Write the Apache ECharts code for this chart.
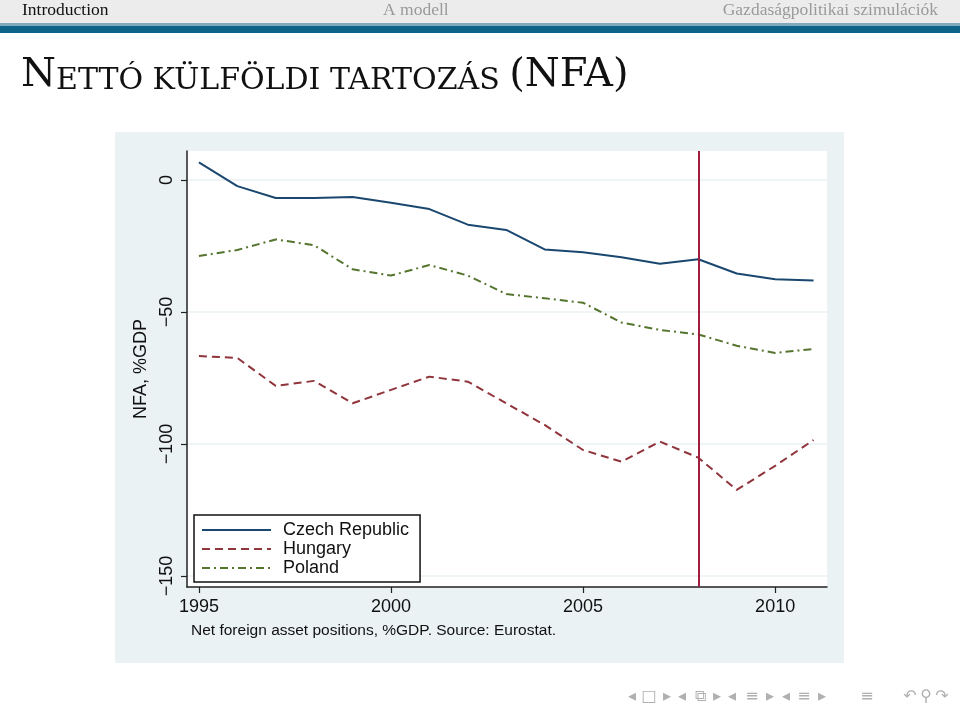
<!DOCTYPE html>
<html>
<head>
<meta charset="utf-8">
<script src="https://cdn.jsdelivr.net/npm/echarts@6/dist/echarts.min.js"></script>
<style>
html,body{margin:0;padding:0;background:#fff;}
#chart{width:960px;height:711px;}
</style>
</head>
<body>
<div id="chart"></div>
<script>
// ---- data ----
const years = [1995,1996,1997,1998,1999,2000,2001,2002,2003,2004,2005,2006,2007,2008,2009,2010,2011];
const czech   = [6.7,-2.3,-6.8,-6.8,-6.4,-8.6,-11.0,-16.9,-18.9,-26.3,-27.4,-29.3,-31.7,-30.0,-35.4,-37.6,-38.1];
const hungary = [-66.7,-67.4,-78.0,-76.1,-84.6,-79.5,-74.5,-76.4,-84.6,-92.8,-102.3,-106.7,-99.1,-105.2,-117.4,-108.3,-98.5];
const poland  = [-28.8,-26.5,-22.5,-24.7,-33.8,-36.2,-32.2,-36.2,-43.2,-44.8,-46.5,-54.0,-56.8,-58.5,-62.8,-65.5,-64.0];
const seriesNames = ['Czech Republic','Hungary','Poland'];
const xTicks = [1995,2000,2005,2010];
const yTicks = [-150,-100,-50,0];
const crisisYear = 2008;
const yAxisTitle = 'NFA, %GDP';
const caption = 'Net foreign asset positions, %GDP. Source: Eurostat.';
const headerItems = ['Introduction','A modell','Gazdaságpolitikai szimulációk'];

const pairs = arr => years.map((y,i)=>[y,arr[i]]);
const sans = '"Liberation Sans", Arial, sans-serif';
const serif = '"Liberation Serif", "DejaVu Serif", serif';
const titleSerif = '"DejaVu Serif", serif';

const chart = echarts.init(document.getElementById('chart'), null, {renderer:'canvas'});

const navColor = '#b0b0b0';
const navItems = [
  ['◂',632],['□',649],['▸',667],
  ['◂',682],['⧉',700],['▸',717],
  ['◂',732],['≡',752],['▸',770],
  ['◂',786],['≡',804],['▸',822],
  ['≡',867],['↶',910],['⚲',926],['↷',942]
];

const graphics = [
  // header bar
  {type:'rect', shape:{x:0,y:0,width:960,height:23}, style:{fill:'#ececec'}, z:-10},
  {type:'rect', shape:{x:0,y:23,width:960,height:3}, style:{fill:'#7fa9bd'}, z:-10},
  {type:'rect', shape:{x:0,y:26,width:960,height:7}, style:{fill:'#0e6388'}, z:-10},
  {type:'text', left:22, top:1, style:{text:headerItems[0], font:'17.5px '+serif, fill:'#111'}},
  {type:'text', left:383, top:1, style:{text:headerItems[1], font:'17.5px '+serif, fill:'#9a9a9a'}},
  {type:'text', right:22, top:1, style:{text:headerItems[2], font:'17.5px '+serif, fill:'#9a9a9a'}},
  // title (small caps simulated)
  {type:'text', left:21, top:56, style:{
    text:'{b|N}{s|ETTÓ KÜLFÖLDI TARTOZÁS }{b|(NFA)}',
    rich:{
      b:{fontFamily:titleSerif, fontSize:40, fill:'#111', verticalAlign:'bottom'},
      s:{fontFamily:titleSerif, fontSize:30, fill:'#111', verticalAlign:'bottom'}
    }
  }},
  // graph region
  {type:'rect', shape:{x:115,y:132,width:729,height:531}, style:{fill:'#eaf2f3'}, z:-5},
  // caption
  {type:'text', left:191, top:623, style:{text:caption, font:'15.5px '+sans, fill:'#111'}}
];
navItems.forEach(([t,x])=>{
  graphics.push({type:'text', x:x, y:697, style:{text:t, font:'16px "DejaVu Sans"', fill:navColor, align:'center', verticalAlign:'middle'}});
});

const lineW = 2;
const option = {
  animation:false,
  backgroundColor:'#fff',
  graphic: graphics,
  grid:{left:187, right:133, top:151, bottom:124, show:true, backgroundColor:'#fff', borderWidth:0, containLabel:false},
  xAxis:{
    type:'value', min:1994.69, max:2011.35,
    axisLine:{show:true, onZero:false, lineStyle:{color:'#222', width:1.5}},
    axisTick:{show:true, length:6, customValues:xTicks, lineStyle:{color:'#222', width:1.2}},
    axisLabel:{customValues:xTicks, fontFamily:sans, fontSize:18, color:'#111', margin:11,
      formatter:v=>String(v)},
    splitLine:{show:false}
  },
  yAxis:{
    type:'value', min:-154.2, max:11,
    name:yAxisTitle, nameLocation:'middle', nameRotate:90, nameGap:31,
    nameTextStyle:{fontFamily:sans, fontSize:18, color:'#111'},
    axisLine:{show:true, onZero:false, lineStyle:{color:'#222', width:1.5}},
    axisTick:{show:true, length:6, customValues:yTicks, lineStyle:{color:'#222', width:1.2}},
    axisLabel:{customValues:yTicks, rotate:90, fontFamily:sans, fontSize:18, color:'#111', margin:11,
      formatter:v=>String(v).replace('-','\u2212')},
    splitLine:{show:true, lineStyle:{color:'#eaf2f3', width:1.5}}
  },
  legend:{
    orient:'vertical', left:194, top:515,
    data:seriesNames,
    backgroundColor:'#fff', borderColor:'#111', borderWidth:1.5,
    padding:[6,11,5,7],
    itemWidth:69, itemHeight:12, itemGap:1,
    itemStyle:{opacity:0},
    textStyle:{fontFamily:sans, fontSize:18, color:'#111', lineHeight:18, padding:[0,0,0,7]}
  },
  series:[
    {name:seriesNames[0], type:'line', data:pairs(czech), symbol:'none',
     lineStyle:{color:'#1a476f', width:lineW}, itemStyle:{color:'#1a476f'},
     markLine:{silent:true, symbol:'none', label:{show:false},
       lineStyle:{color:'#a11d3f', width:2, type:'solid'},
       data:[{xAxis:crisisYear}]}},
    {name:seriesNames[1], type:'line', data:pairs(hungary), symbol:'none',
     lineStyle:{color:'#90353b', width:lineW, type:[8,5]}, itemStyle:{color:'#90353b'}},
    {name:seriesNames[2], type:'line', data:pairs(poland), symbol:'none',
     lineStyle:{color:'#55752f', width:lineW, type:[8,4,2,4]}, itemStyle:{color:'#55752f'}}
  ]
};
chart.setOption(option);
</script>
</body>
</html>
